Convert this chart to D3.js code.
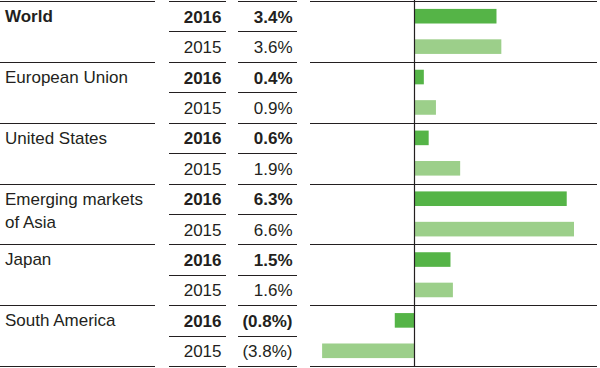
<!DOCTYPE html>
<html>
<head>
<meta charset="utf-8">
<script src="https://cdn.jsdelivr.net/npm/d3@7"></script>
<style>
  html, body { margin: 0; padding: 0; background: #fff; }
  svg text { font-family: "Liberation Sans", Arial, Helvetica, sans-serif; font-size: 17px; fill: #231f20; }
</style>
</head>
<body>
<div id="chart"></div>
<script>
// Dados
const regions = ["World", "European Union", "United States", "Emerging markets\nof Asia", "Japan", "South America"];
const years = ["2016", "2015"];
const growth2016 = [3.4, 0.4, 0.6, 6.3, 1.5, -0.8];
const growth2015 = [3.6, 0.9, 1.9, 6.6, 1.6, -3.8];

// Configurações
const width = 600, height = 368;
const cols = {
  label: [0, 155],
  year: [169, 226],
  value: [238, 297],
  bars: [310, 597]
};
const colorMap = { "2016": "#55b447", "2015": "#9ccf8a" };
const lineColor = "#231f20";

const rows = [];
regions.forEach((r, i) => {
  rows.push({ region: r, year: "2016", value: growth2016[i] });
  rows.push({ region: r, year: "2015", value: growth2015[i] });
});

const svg = d3.select("#chart").append("svg")
  .attr("width", width)
  .attr("height", height);

// Escalas
const yGroup = d3.scaleBand().domain(regions).range([1, 366]);
const yRow = d3.scaleBand().domain(years).range([0, yGroup.bandwidth()]);
const x = d3.scaleLinear().domain([-4.3, 7.55]).range(cols.bars);

const crisp = v => Math.round(v) + 0.5;
const fmt = v => v < 0 ? `(${d3.format(".1f")(-v)}%)` : `${d3.format(".1f")(v)}%`;

// Linhas horizontais
const groupEdges = regions.map(r => yGroup(r)).concat([yGroup.range()[1]]);
const hLines = svg.append("g");
groupEdges.forEach(y => {
  Object.values(cols).forEach(c => {
    hLines.append("line")
      .attr("x1", c[0]).attr("x2", c[1])
      .attr("y1", crisp(y)).attr("y2", crisp(y))
      .attr("stroke", lineColor).attr("stroke-width", 1);
  });
});
// Linhas internas (entre 2016 e 2015)
regions.forEach(r => {
  const y = crisp(yGroup(r) + yRow("2015"));
  [cols.year, cols.value].forEach(c => {
    hLines.append("line")
      .attr("x1", c[0]).attr("x2", c[1])
      .attr("y1", y).attr("y2", y)
      .attr("stroke", lineColor).attr("stroke-width", 1);
  });
});

// Barras
const barH = yRow.bandwidth() * 0.48;
svg.append("g").selectAll("rect")
  .data(rows)
  .enter().append("rect")
  .attr("x", d => x(Math.min(0, d.value)))
  .attr("width", d => Math.abs(x(d.value) - x(0)))
  .attr("y", d => yGroup(d.region) + yRow(d.year) + (yRow.bandwidth() - barH) / 2)
  .attr("height", barH)
  .attr("fill", d => colorMap[d.year]);

// Linha do zero
svg.append("line")
  .attr("x1", crisp(x(0))).attr("x2", crisp(x(0)))
  .attr("y1", 0).attr("y2", 367)
  .attr("stroke", lineColor).attr("stroke-width", 1.2);

// Rótulos das regiões
const labels = svg.append("g").selectAll("text")
  .data(regions)
  .enter().append("text")
  .attr("x", cols.label[0] + 5)
  .attr("y", d => yGroup(d) + 21)
  .attr("font-weight", (d, i) => i === 0 ? "bold" : "normal");
labels.selectAll("tspan")
  .data(d => d.split("\n"))
  .enter().append("tspan")
  .attr("x", cols.label[0] + 5)
  .attr("dy", (d, i) => i ? 23 : 0)
  .text(d => d);

// Anos e valores
const rowText = svg.append("g").selectAll("g")
  .data(rows)
  .enter().append("g")
  .attr("transform", d => `translate(0,${yGroup(d.region) + yRow(d.year) + yRow.bandwidth() / 2 + 6.5})`);

rowText.append("text")
  .attr("x", cols.year[1] - 4.5)
  .attr("text-anchor", "end")
  .attr("font-weight", d => d.year === "2016" ? "bold" : "normal")
  .text(d => d.year);

rowText.append("text")
  .attr("x", cols.value[1] - 4.5)
  .attr("text-anchor", "end")
  .attr("font-weight", d => d.year === "2016" ? "bold" : "normal")
  .text(d => fmt(d.value));
</script>
</body>
</html>
